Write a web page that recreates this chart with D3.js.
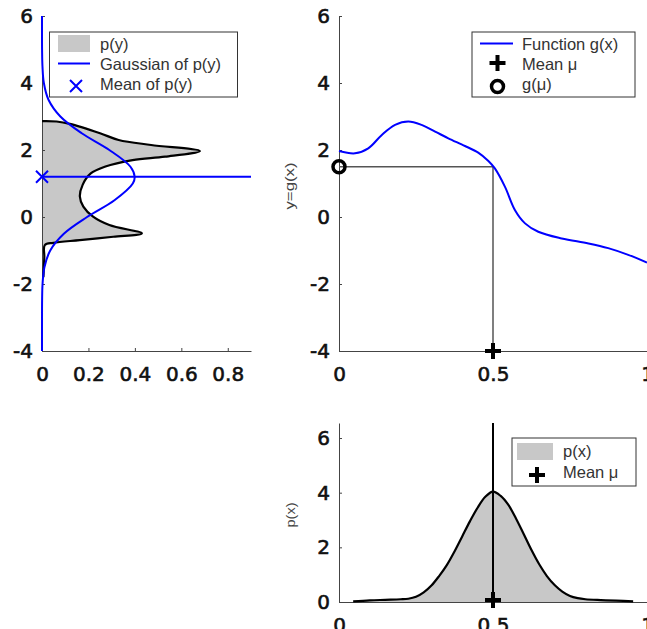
<!DOCTYPE html>
<html>
<head>
<meta charset="utf-8">
<script src="https://cdn.jsdelivr.net/npm/d3@7"></script>
<style>
	body { margin: 0; background: #fff; }
	svg { display: block; font-family: "Liberation Sans", Arial, sans-serif; }
	.tick text { font-family: "DejaVu Sans", sans-serif; font-size: 20px; fill: #111; stroke: #111; stroke-width: 0.6px; }
	.domain, .tick line { stroke: #444; }
	.legend text { font-size: 16.5px; fill: #333; }
</style>
</head>
<body>
<div id="chart"></div>
<script>
// function g(x)
var gX = [0, 0.052, 0.095, 0.139, 0.182, 0.225, 0.268, 0.312, 0.355, 0.409, 0.452, 0.485, 0.506, 0.539, 0.571, 0.604, 0.647, 0.723, 0.810, 0.874, 0.939, 1.0];
var gY = [1.97, 1.90, 2.05, 2.45, 2.75, 2.85, 2.75, 2.55, 2.35, 2.12, 1.92, 1.67, 1.45, 0.90, 0.21, -0.19, -0.44, -0.64, -0.79, -0.93, -1.13, -1.36];

// p(y), top-left panel (y value, density)
var pyY = [2.86, 2.85, 2.78, 2.5, 2.3, 2.15, 1.97, 1.80, 1.70, 1.50, 1.30, 0.96, 0.61, 0.31, 0.01, -0.24, -0.49, -0.59, -0.69, -0.77, -0.84, -1.2, -1.8];
var pyP = [0, 0.063, 0.12, 0.25, 0.33, 0.47, 0.68, 0.53, 0.39, 0.27, 0.21, 0.175, 0.163, 0.178, 0.22, 0.29, 0.43, 0.307, 0.163, 0.049, 0.012, 0.01, 0.006];

// Gaussian of p(y)
var gaussY = [-4, -3.5, -3, -2.5, -2, -1.5, -1, -0.5, 0, 0.5, 1, 1.2, 1.5, 2, 2.5, 3, 3.5, 4, 4.5, 5, 5.5, 6];
var gaussP = [0, 0, 0.0001, 0.0004, 0.0024, 0.0104, 0.0355, 0.094, 0.194, 0.312, 0.391, 0.399, 0.381, 0.290, 0.171, 0.079, 0.028, 0.008, 0.002, 0.0003, 0, 0];

// p(x), bottom panel
var pxX = [0.046, 0.10, 0.15, 0.20, 0.225, 0.25, 0.275, 0.30, 0.325, 0.35, 0.375, 0.40, 0.425, 0.45, 0.475, 0.50, 0.525, 0.55, 0.575, 0.60, 0.625, 0.65, 0.675, 0.70, 0.725, 0.75, 0.775, 0.80, 0.85, 0.90, 0.955];
var pxP = [0.02, 0.06, 0.08, 0.10, 0.12, 0.19, 0.35, 0.60, 0.95, 1.35, 1.85, 2.40, 2.95, 3.45, 3.85, 4.04, 3.88, 3.55, 3.05, 2.48, 1.90, 1.38, 0.95, 0.62, 0.38, 0.22, 0.14, 0.10, 0.07, 0.05, 0.02];

var muX = 0.5, gMu = 1.5, meanPy = 1.2;

var yTicks = [-4, -2, 0, 2, 4, 6];
var leftXTicks = [0, 0.2, 0.4, 0.6, 0.8];
var rightXTicks = [0, 0.5, 1];
var bottomYTicks = [0, 2, 4, 6];

var BLUE = '#0000ff', FILL = '#c8c8c8';

var svg = d3.select('#chart').append('svg').attr('width', 647).attr('height', 629);
var fmt = function(d) { return String(d); };

var pyData = pyY.map(function(v, i) { return {y: v, p: pyP[i]}; });
var gaussData = gaussY.map(function(v, i) { return {y: v, p: gaussP[i]}; });
var gData = gX.map(function(v, i) { return {x: v, y: gY[i]}; });
var pxData = pxX.map(function(v, i) { return {x: v, p: pxP[i]}; });

var plus = function(g, cx, cy) {
	g.append('path').attr('d', 'M' + (cx - 8) + ',' + cy + 'H' + (cx + 8) + 'M' + cx + ',' + (cy - 8) + 'V' + (cy + 8))
		.attr('stroke', '#000').attr('stroke-width', 4).attr('fill', 'none');
};
var ring = function(g, cx, cy) {
	g.append('circle').attr('cx', cx).attr('cy', cy).attr('r', 6)
		.attr('fill', 'none').attr('stroke', '#000').attr('stroke-width', 3.5);
};
var cross = function(g, cx, cy) {
	g.append('path').attr('d', 'M' + (cx - 6) + ',' + (cy - 6) + 'L' + (cx + 6) + ',' + (cy + 6) + 'M' + (cx - 6) + ',' + (cy + 6) + 'L' + (cx + 6) + ',' + (cy - 6))
		.attr('stroke', BLUE).attr('stroke-width', 2).attr('fill', 'none');
};
var axes = function(x, y, xt, yt) {
	var ay = d3.axisLeft(y).tickValues(yt).tickFormat(fmt).tickSizeInner(-3).tickSizeOuter(0).tickPadding(9);
	var ax = d3.axisBottom(x).tickValues(xt).tickFormat(fmt).tickSizeInner(-3).tickSizeOuter(0).tickPadding(16);
	svg.append('g').attr('transform', 'translate(' + x.range()[0] + ',0)').call(ay);
	svg.append('g').attr('transform', 'translate(0,' + y.range()[0] + ')').call(ax);
};
var legendBox = function(x0, y0, w, h) {
	var g = svg.append('g').attr('class', 'legend');
	g.append('rect').attr('x', x0).attr('y', y0).attr('width', w).attr('height', h)
		.attr('fill', '#fff').attr('stroke', '#333').attr('stroke-width', 1);
	return g;
};

// ---- top-left: p(y)
var xL = d3.scaleLinear().domain([0, 0.9]).range([42, 251]);
var yT = d3.scaleLinear().domain([-4, 6]).range([351, 16]);

svg.append('path').datum(pyData)
	.attr('d', d3.area().y(function(d) { return yT(d.y); }).x0(xL(0)).x1(function(d) { return xL(d.p); }).curve(d3.curveCatmullRom))
	.attr('fill', FILL);
axes(xL, yT, leftXTicks, yTicks);
svg.append('path').datum(pyData)
	.attr('d', d3.line().y(function(d) { return yT(d.y); }).x(function(d) { return xL(d.p); }).curve(d3.curveCatmullRom))
	.attr('fill', 'none').attr('stroke', '#000').attr('stroke-width', 2.2);
svg.append('path').datum(gaussData)
	.attr('d', d3.line().y(function(d) { return yT(d.y); }).x(function(d) { return xL(d.p); }).curve(d3.curveCatmullRom))
	.attr('fill', 'none').attr('stroke', BLUE).attr('stroke-width', 2);
svg.append('line').attr('x1', xL(0)).attr('x2', xL(0.9)).attr('y1', yT(meanPy)).attr('y2', yT(meanPy))
	.attr('stroke', BLUE).attr('stroke-width', 2);
cross(svg, xL(0), yT(meanPy));

var lg1 = legendBox(49.5, 32, 188, 65);
lg1.append('rect').attr('x', 58).attr('y', 35).attr('width', 32).attr('height', 17).attr('fill', FILL);
lg1.append('line').attr('x1', 58).attr('x2', 90).attr('y1', 63.5).attr('y2', 63.5).attr('stroke', BLUE).attr('stroke-width', 2);
cross(lg1, 76, 86);
lg1.append('text').attr('x', 100).attr('y', 50).text('p(y)');
lg1.append('text').attr('x', 100).attr('y', 70).text('Gaussian of p(y)');
lg1.append('text').attr('x', 100).attr('y', 90).text('Mean of p(y)');

// ---- top-right: g(x)
var xR = d3.scaleLinear().domain([0, 1]).range([339, 647]);

axes(xR, yT, rightXTicks, yTicks);
svg.append('path').attr('d', 'M' + xR(0) + ',' + yT(gMu) + 'H' + xR(muX) + 'V' + yT(-4))
	.attr('fill', 'none').attr('stroke', '#555').attr('stroke-width', 1.5);
svg.append('path').datum(gData)
	.attr('d', d3.line().x(function(d) { return xR(d.x); }).y(function(d) { return yT(d.y); }).curve(d3.curveCatmullRom))
	.attr('fill', 'none').attr('stroke', BLUE).attr('stroke-width', 2);
ring(svg, xR(0), yT(gMu));
plus(svg, xR(muX), yT(-4));
svg.append('text').attr('transform', 'translate(294,186) rotate(-90)').attr('text-anchor', 'middle')
	.attr('font-size', 12).attr('fill', '#444').attr('textLength', 47).attr('lengthAdjust', 'spacingAndGlyphs').text('y=g(x)');

var lg2 = legendBox(472, 32, 163, 65);
lg2.append('line').attr('x1', 480).attr('x2', 513).attr('y1', 43.5).attr('y2', 43.5).attr('stroke', BLUE).attr('stroke-width', 2);
plus(lg2, 497.5, 63);
ring(lg2, 497.5, 86.5);
lg2.append('text').attr('x', 522).attr('y', 50).text('Function g(x)');
lg2.append('text').attr('x', 522).attr('y', 70).text('Mean \u03bc');
lg2.append('text').attr('x', 522).attr('y', 90).text('g(\u03bc)');

// ---- bottom: p(x)
var yB = d3.scaleLinear().domain([0, 6.55]).range([602, 423]);

svg.append('path').datum(pxData)
	.attr('d', d3.area().x(function(d) { return xR(d.x); }).y0(yB(0)).y1(function(d) { return yB(d.p); }).curve(d3.curveCatmullRom))
	.attr('fill', FILL);
axes(xR, yB, rightXTicks, bottomYTicks);
svg.append('path').datum(pxData)
	.attr('d', d3.line().x(function(d) { return xR(d.x); }).y(function(d) { return yB(d.p); }).curve(d3.curveCatmullRom))
	.attr('fill', 'none').attr('stroke', '#000').attr('stroke-width', 2.2);
svg.append('line').attr('x1', xR(muX)).attr('x2', xR(muX)).attr('y1', yB(0)).attr('y2', yB(6.55))
	.attr('stroke', '#000').attr('stroke-width', 2);
plus(svg, xR(muX), yB(0) - 2);
svg.append('text').attr('transform', 'translate(295,515) rotate(-90)').attr('text-anchor', 'middle')
	.attr('font-size', 12).attr('fill', '#444').attr('textLength', 25).attr('lengthAdjust', 'spacingAndGlyphs').text('p(x)');

var lg3 = legendBox(512, 438, 124, 48);
lg3.append('rect').attr('x', 517).attr('y', 443).attr('width', 36).attr('height', 17).attr('fill', FILL);
plus(lg3, 537, 475);
lg3.append('text').attr('x', 563).attr('y', 457).text('p(x)');
lg3.append('text').attr('x', 563).attr('y', 478).text('Mean \u03bc');
</script>
</body>
</html>
